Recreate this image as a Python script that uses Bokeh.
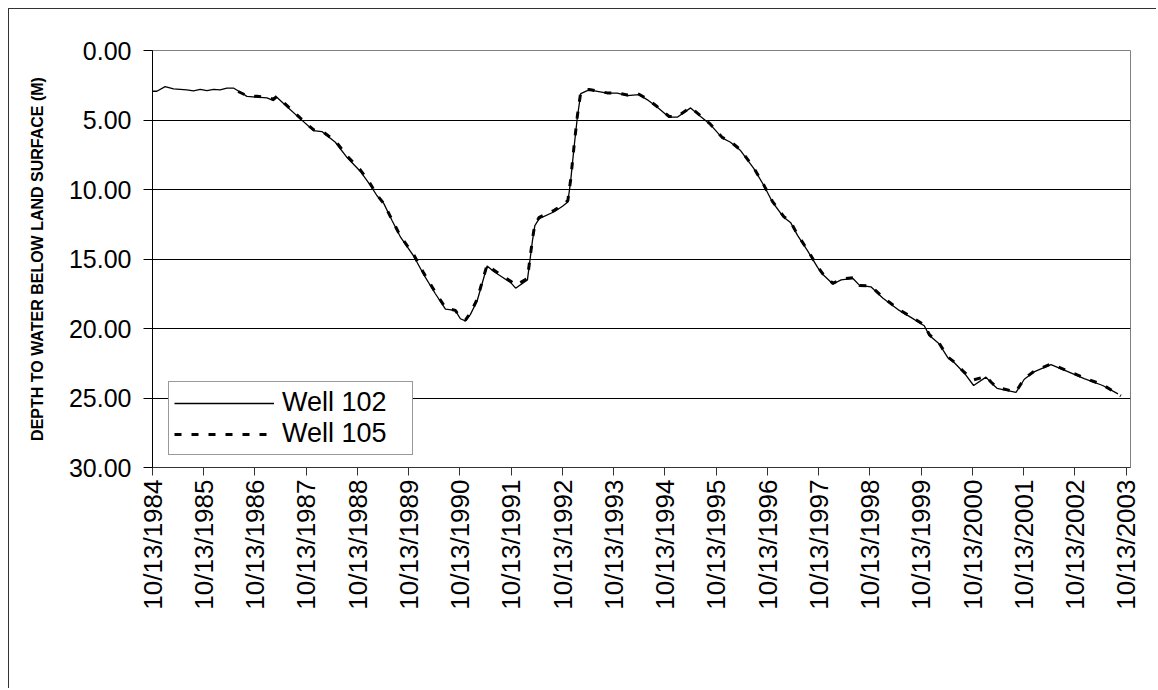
import pandas as pd
from bokeh.plotting import figure
from bokeh.models import (Range1d, FixedTicker, NumeralTickFormatter,
                          DatetimeTickFormatter, Legend, ColumnDataSource)
from bokeh.embed import file_html
from bokeh.resources import INLINE

# ---------------- data ----------------
well102_dates = [
    "1984-10-13", "1984-11-13", "1985-01-11", "1985-03-12", "1985-06-15", "1985-08-01",
    "1985-09-18", "1985-11-05", "1985-12-23", "1986-02-07", "1986-03-27", "1986-05-13",
    "1986-07-01", "1986-08-17", "1986-10-27", "1987-01-07", "1987-02-22", "1987-03-18",
    "1987-05-28", "1987-08-31", "1987-12-04", "1988-02-02", "1988-05-08", "1988-07-31",
    "1988-11-03", "1989-01-13", "1989-03-01", "1989-04-18", "1989-06-17", "1989-08-17",
    "1989-11-18", "1990-01-27", "1990-04-21", "1990-07-02", "1990-09-10", "1990-10-16",
    "1990-11-21", "1990-12-26", "1991-02-13", "1991-04-25", "1991-06-11", "1991-10-10",
    "1991-11-14", "1992-02-06", "1992-03-14", "1992-03-30", "1992-04-30", "1992-08-15",
    "1992-10-13", "1992-11-20", "1992-12-10", "1993-01-03", "1993-01-27", "1993-02-20",
    "1993-04-20", "1993-08-27", "1993-11-07", "1994-01-18", "1994-04-11", "1994-06-10",
    "1994-08-20", "1994-11-12", "1995-01-09", "1995-04-14", "1995-06-24", "1995-09-02",
    "1995-11-25", "1996-01-23", "1996-04-04", "1996-07-08", "1996-09-18", "1996-11-17",
    "1997-02-06", "1997-03-28", "1997-05-15", "1997-07-25", "1997-10-05", "1997-11-10",
    "1998-01-22", "1998-03-22", "1998-06-14", "1998-07-31", "1998-10-20", "1999-01-12",
    "1999-05-10", "1999-08-01", "1999-11-04", "1999-12-11", "2000-02-18", "2000-04-20",
    "2000-06-04", "2000-08-15", "2000-10-21", "2001-01-17", "2001-02-22", "2001-04-06",
    "2001-08-19", "2001-10-17", "2001-12-29", "2002-04-25", "2002-08-11", "2002-12-18",
    "2003-04-29", "2003-08-16",
]
well102_depth = [
    2.93, 2.93, 2.60, 2.76, 2.83, 2.90,
    2.80, 2.88, 2.80, 2.83, 2.70, 2.70,
    3.00, 3.30, 3.36, 3.41, 3.60, 3.36,
    4.03, 4.90, 5.76, 5.83, 6.60, 7.70,
    8.70, 9.70, 10.45, 11.00, 12.25, 13.45,
    14.80, 16.10, 17.50, 18.60, 18.70, 19.30,
    19.45, 19.00, 18.00, 15.50, 15.90, 16.70,
    17.10, 16.50, 13.60, 12.60, 12.10, 11.60,
    11.20, 10.90, 9.40, 7.00, 4.80, 3.10,
    2.83, 3.07, 3.07, 3.24, 3.17, 3.55,
    4.08, 4.80, 4.80, 4.13, 4.75, 5.33,
    6.29, 6.60, 7.20, 8.50, 9.73, 10.90,
    12.00, 12.40, 13.30, 14.40, 15.60, 16.10,
    16.80, 16.50, 16.40, 16.90, 17.00, 17.80,
    18.70, 19.20, 19.80, 20.50, 21.10, 22.10,
    22.45, 23.20, 24.10, 23.50, 23.90, 24.30,
    24.60, 23.65, 23.10, 22.60, 23.05, 23.60,
    24.10, 24.70,
]

well105_dates = [
    "1986-06-15", "1986-08-17", "1986-10-27", "1987-01-07", "1987-02-22", "1987-03-18",
    "1987-05-28", "1987-08-31", "1987-12-04", "1988-02-02", "1988-05-08", "1988-07-31",
    "1988-11-03", "1989-01-13", "1989-03-01", "1989-04-18", "1989-06-17", "1989-08-17",
    "1989-11-18", "1990-01-27", "1990-04-21", "1990-07-02", "1990-09-10", "1990-10-16",
    "1990-11-21", "1990-12-26", "1991-02-13", "1991-04-25", "1991-06-11", "1991-10-10",
    "1991-11-14", "1992-02-06", "1992-03-14", "1992-03-30", "1992-04-30", "1992-08-15",
    "1992-10-13", "1992-11-20", "1992-12-10", "1993-01-03", "1993-01-27", "1993-02-20",
    "1993-04-20", "1993-08-27", "1993-11-07", "1994-01-18", "1994-04-11", "1994-06-10",
    "1994-08-20", "1994-11-12", "1995-01-09", "1995-04-14", "1995-06-24", "1995-09-02",
    "1995-11-25", "1996-01-23", "1996-04-04", "1996-07-08", "1996-09-18", "1996-11-17",
    "1997-02-06", "1997-03-28", "1997-05-15", "1997-07-25", "1997-10-05", "1997-11-10",
    "1998-01-22", "1998-03-22", "1998-06-14", "1998-07-31", "1998-10-20", "1999-01-12",
    "1999-05-10", "1999-08-01", "1999-11-04", "1999-12-11", "2000-02-18", "2000-04-20",
    "2000-06-04", "2000-08-15", "2000-10-21", "2001-01-17", "2001-02-22", "2001-04-06",
    "2001-08-19", "2001-10-17", "2001-12-29", "2002-04-25", "2002-08-11", "2002-12-18",
    "2003-04-29", "2003-09-05",
]
well105_depth = [
    2.95, 3.25, 3.30, 3.35, 3.50, 3.30,
    3.95, 4.85, 5.70, 5.80, 6.50, 7.60,
    8.60, 9.60, 10.40, 11.00, 12.20, 13.40,
    14.70, 16.00, 17.40, 18.50, 18.70, 19.20,
    19.40, 18.90, 17.90, 15.40, 15.80, 16.60,
    16.90, 16.40, 13.50, 12.50, 12.00, 11.50,
    11.10, 10.80, 9.30, 6.90, 4.70, 3.00,
    2.80, 3.05, 3.05, 3.20, 3.15, 3.50,
    4.05, 4.75, 4.75, 4.10, 4.70, 5.30,
    6.25, 6.55, 7.15, 8.45, 9.70, 10.85,
    11.95, 12.35, 13.25, 14.35, 15.55, 16.05,
    16.75, 16.45, 16.35, 16.90, 16.95, 17.75,
    18.65, 19.15, 19.75, 20.45, 21.05, 22.05,
    22.40, 23.15, 23.70, 23.45, 23.85, 24.25,
    24.55, 23.60, 23.05, 22.55, 23.00, 23.55,
    24.05, 24.85,
]

tick_dates = [f"{y}-10-13" for y in range(1984, 2004)]
y_ticks = [0, 5, 10, 15, 20, 25, 30]
grid_ticks = [5, 10, 15, 20, 25]
series_names = ["Well 102", "Well 105"]
y_title = "DEPTH TO WATER BELOW LAND SURFACE (M)"

# ---------------- figure ----------------
FONT = "Liberation Sans"

src102 = ColumnDataSource(dict(x=pd.to_datetime(well102_dates), y=well102_depth))
src105 = ColumnDataSource(dict(x=pd.to_datetime(well105_dates), y=well105_depth))

p = figure(width=1148, height=680, x_axis_type="datetime",
           x_range=Range1d(pd.Timestamp("1984-10-13"), pd.Timestamp("2003-11-13")),
           y_range=Range1d(30, 0),
           output_backend="svg", toolbar_location=None, title=None,
           min_border_left=143, min_border_top=41, min_border_right=27,
           min_border_bottom=222)
p.styles = {"margin-left": "8px", "margin-top": "8px",
            "border-top": "1px solid #333333", "border-left": "1px solid #333333"}
p.background_fill_color = "white"
p.border_fill_color = "white"
p.outline_line_color = "#808080"
p.outline_line_width = 1

r105 = p.line("x", "y", source=src105, line_color="black", line_width=3,
              line_dash="7 10")
r102 = p.line("x", "y", source=src102, line_color="black", line_width=1.3)

tick_ms = [float((pd.Timestamp(d) - pd.Timestamp("1970-01-01")) / pd.Timedelta(milliseconds=1))
           for d in tick_dates]
xa = p.xaxis[0]
xa.ticker = FixedTicker(ticks=tick_ms)
fmt = "%m/%d/%Y"
xa.formatter = DatetimeTickFormatter(milliseconds=fmt, seconds=fmt, minsec=fmt, minutes=fmt,
                                     hourmin=fmt, hours=fmt, days=fmt, months=fmt, years=fmt)
xa.major_label_orientation = 3.14159265 / 2
xa.major_label_text_font = FONT
xa.major_label_text_font_size = "26px"
xa.major_label_text_color = "black"
xa.major_label_standoff = 4
xa.major_tick_out = 8
xa.major_tick_in = 0
xa.minor_tick_out = 0
xa.minor_tick_in = 0
xa.axis_line_color = "#333333"
xa.major_tick_line_color = "#333333"

ya = p.yaxis[0]
ya.ticker = FixedTicker(ticks=y_ticks)
ya.formatter = NumeralTickFormatter(format="0.00")
ya.major_label_text_font = FONT
ya.major_label_text_font_size = "25px"
ya.major_label_text_color = "black"
ya.major_label_standoff = 12
ya.major_tick_out = 9
ya.major_tick_in = 0
ya.minor_tick_out = 0
ya.minor_tick_in = 0
ya.axis_line_color = "black"
ya.major_tick_line_color = "black"
ya.axis_label = y_title
ya.axis_label_text_font = FONT
ya.axis_label_text_font_style = "bold"
ya.axis_label_text_font_size = "16px"
ya.axis_label_text_color = "black"
ya.axis_label_standoff = 20

p.xgrid.visible = False
p.ygrid[0].ticker = FixedTicker(ticks=grid_ticks)
p.ygrid[0].grid_line_color = "black"
p.ygrid[0].grid_line_width = 1

legend = Legend(items=[(series_names[0], [r102]), (series_names[1], [r105])],
                location=(16, 12))
legend.label_text_font = FONT
legend.label_text_font_size = "27px"
legend.label_text_color = "black"
legend.glyph_width = 100
legend.glyph_height = 28
legend.label_height = 28
legend.label_width = 125
legend.label_standoff = 8
legend.padding = 5
legend.spacing = 0
legend.margin = 0
legend.border_line_color = "#333333"
legend.border_line_width = 1
legend.background_fill_color = "white"
legend.background_fill_alpha = 1
p.add_layout(legend)

open("out.html", "w").write(file_html(p, INLINE))
